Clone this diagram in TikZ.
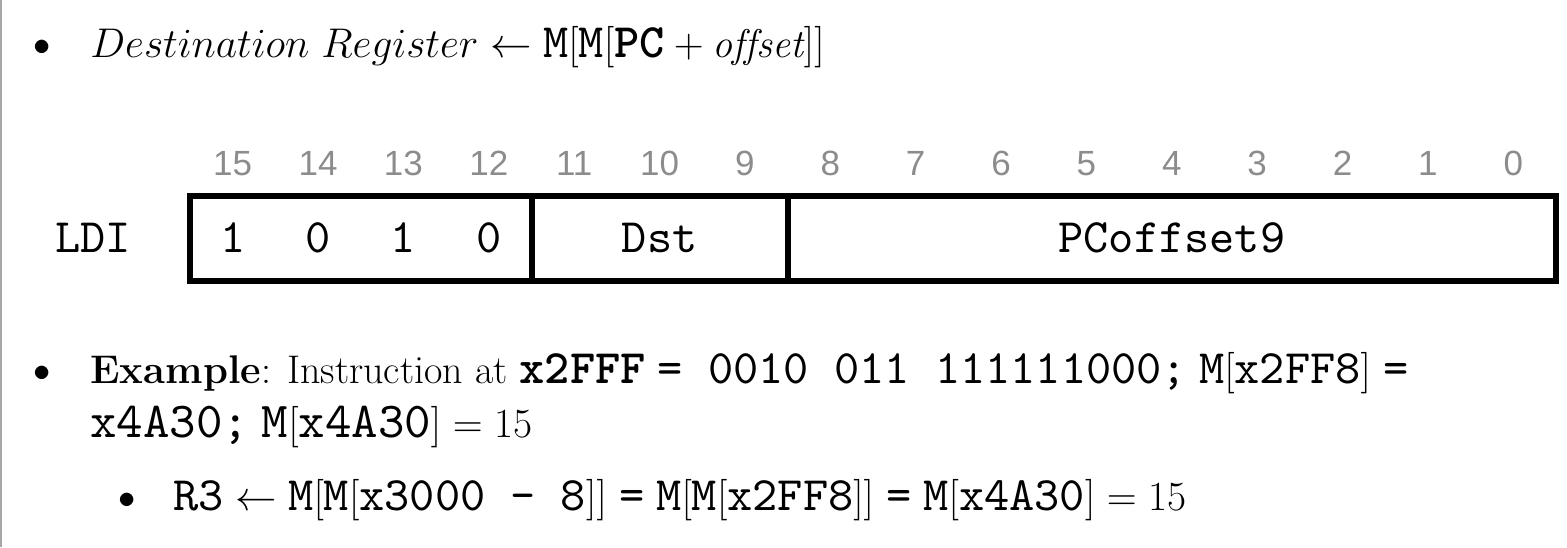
\documentclass[tikz,border=0pt]{standalone}
\usepackage{fontspec}
\setmonofont{lmmono10-regular.otf}[Scale=1.2, BoldFont=lmmonolt10-bold.otf]
\newfontfamily\bitfont{Liberation Sans}
\usetikzlibrary{positioning}

\begin{document}
\begin{tikzpicture}[x=0.5pt,y=-0.5pt,
    line/.style={anchor=base west, inner sep=0pt, font=\fontsize{20}{24}\selectfont},
    dot/.style={anchor=base, inner sep=0pt, font=\fontsize{16.5}{18}\selectfont},
    field/.style={draw=black, line width=3pt, inner sep=0pt, outer sep=0pt, minimum height=42.5pt},
    bitnum/.style={anchor=base, inner sep=0pt, text=black!45, font=\bitfont\fontsize{17.5}{20}\selectfont},
    bitval/.style={anchor=base, inner sep=0pt, font=\ttfamily\fontsize{20}{24}\selectfont}]
    \useasboundingbox (0,0) rectangle (1567,547);
    \draw[black!35, line width=1pt] (1,0) -- (1,547);

    % semantics
    \node[dot] (d1) at (42,55) {$\bullet$};
    \node[line] (rule) at (90,57) {$Destination\ Register \leftarrow \texttt{M}[\texttt{M}[\texttt{\bfseries PC} + \mathit{offset}]]$};

    % encoding
    \node[field, minimum width=170.8pt] (opcode) at (360.8,238.5) {};
    \node[field, minimum width=128.1pt, right=0pt of opcode] (dst) {};
    \node[field, minimum width=384.1pt, right=0pt of dst] (offset) {};

    \foreach \b [evaluate=\b as \x using 190+(15.5-\b)*85.375] in {0,...,15}
        \node[bitnum] (n\b) at (\x,175) {\b};
    \foreach \v [count=\i] in {1,0,1,0}
        \node[bitval] (op\i) at ({190+(\i-0.5)*85.375},252) {\v};
    \node[bitval] (ldi) at (93,252) {LDI};
    \node[bitval] (dsttxt) at (dst |- op1.base) {Dst};
    \node[bitval] (offtxt) at (offset |- op1.base) {PCoffset9};

    % example
    \node[dot] (d2) at (42,381) {$\bullet$};
    \node[line] (ex1) at (90,383) {\textbf{Example}: Instruction at \texttt{\bfseries x2FFF} \texttt{= 0010 011 111111000;} $\texttt{M}[\texttt{x2FF8}]$ \texttt{=}};
    \node[line, font=\fontsize{21}{24}\selectfont] (ex2) at (90,437) {\texttt{x4A30;} $\texttt{M}[\texttt{x4A30}] = 15$};
    \node[dot] (d3) at (127,508) {$\bullet$};
    \node[line] (ex3) at (173,510) {$\texttt{R3} \leftarrow \texttt{M}[\texttt{M}[\texttt{x3000 - 8}]]$ \texttt{=} $\texttt{M}[\texttt{M}[\texttt{x2FF8}]]$ \texttt{=} $\texttt{M}[\texttt{x4A30}] = 15$};
\end{tikzpicture}
\end{document}
